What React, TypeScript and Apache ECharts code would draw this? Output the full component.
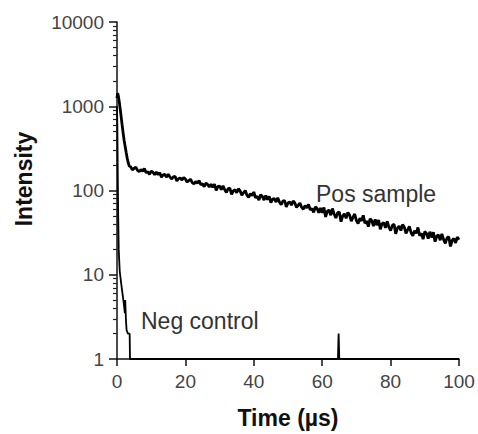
import React, { useEffect, useRef } from "react";
import * as echarts from "echarts";

// Pos sample: fast initial decay (time µs, intensity)
const posHeadTimes = [0, 0.15, 0.3, 0.5, 0.7, 0.9, 1.1, 1.3, 1.5, 1.8, 2.1, 2.4, 2.7, 3.0, 3.3, 3.6];
const posHeadValues = [1250, 1420, 1380, 1250, 1100, 950, 820, 700, 600, 480, 390, 330, 280, 240, 212, 195];

// Pos sample: slow noisy tail, one reading every 0.5 µs from 4 µs to 100 µs
const posTailStart = 4;
const posTailStep = 0.5;
const posTailValues = [
  191, 176, 183, 190, 173, 167, 177, 170, 182, 163, 167, 155, 170, 165, 154, 166,
  154, 163, 144, 153, 155, 144, 156, 144, 137, 145, 147, 130, 138, 141, 133, 143,
  137, 126, 131, 136, 124, 120, 128, 122, 131, 117, 120, 111, 122, 118, 110, 119,
  109, 119, 100, 111, 113, 102, 114, 102, 95, 105, 107, 90, 99, 102, 94, 105,
  99, 88, 94, 100, 88, 83, 92, 87, 96, 82, 85, 77, 89, 85, 77, 87,
  78, 85, 72, 79, 80, 73, 82, 73, 68, 75, 76, 64, 71, 73, 67, 75,
  71, 63, 67, 71, 63, 60, 66, 62, 68.5, 59, 61, 55, 64, 61, 54.5, 62,
  54.5, 63, 48.6, 56.7, 58.6, 50.9, 61.1, 52.3, 47.2, 54.3, 55.5, 42.7, 50, 52.8, 46.8, 54.9,
  51.2, 43.3, 48, 52.6, 44, 40.5, 47, 43.5, 50.8, 40.8, 43.5, 37.3, 46.2, 43.8, 37.8, 45.5,
  38.7, 44.6, 34.7, 40.4, 41.6, 36, 43, 36.9, 33.4, 38.6, 39.7, 30.6, 36, 37.8, 33.5, 39.3,
  36.8, 31, 34.2, 37.6, 31.5, 28.9, 33.4, 31, 36.4, 29.1, 31, 26.5, 32.6, 31, 26.9, 32.4,
  27.7, 31.9, 24.7, 28.8, 29.8, 25.7, 30.6, 26.1, 23.6, 27.4, 28.3, 21.7, 25.5, 26.9, 23.9, 28,
  26,
];

// Neg control
const negTimes = [0, 0.1, 0.2, 0.35, 0.5, 0.8, 1.2, 1.6, 2.0, 2.3, 2.4, 2.6, 2.8, 3.2, 3.7, 3.8, 64.6, 64.8, 65.0, 100];
const negValues = [1000, 600, 200, 50, 20, 11, 8, 6, 4.5, 3.5, 5, 3, 2.2, 2, 2, 1, 1, 2, 1, 1];

// Axis ticks
const xTicks = [0, 20, 40, 60, 80, 100];
const yMajorTicks = [1, 10, 100, 1000, 10000];
const yMinorTicks = [
  2, 3, 4, 5, 6, 7, 8, 9,
  20, 30, 40, 50, 60, 70, 80, 90,
  200, 300, 400, 500, 600, 700, 800, 900,
  2000, 3000, 4000, 5000, 6000, 7000, 8000, 9000,
];

const FONT = "'Liberation Sans', Arial, Helvetica, sans-serif";

export default function App() {
  const ref = useRef<HTMLDivElement>(null);

  useEffect(() => {
    if (!ref.current) return;
    const chart = echarts.init(ref.current, null, { renderer: "svg" });

    const posData: number[][] = [];
    posHeadTimes.forEach((t, i) => posData.push([t, posHeadValues[i]]));
    posTailValues.forEach((v, i) => posData.push([posTailStart + i * posTailStep, v]));
    const negData = negTimes.map((t, i) => [t, negValues[i]]);

    chart.setOption({
      animation: false,
      backgroundColor: "#ffffff",
      textStyle: { fontFamily: FONT },
      grid: { left: 117, right: 19, top: 22, bottom: 72, containLabel: false },
      xAxis: {
        type: "value",
        min: xTicks[0],
        max: xTicks[xTicks.length - 1],
        interval: 20,
        name: "Time (µs)",
        nameLocation: "middle",
        nameGap: 47,
        nameTextStyle: { fontSize: 23, fontWeight: "bold", color: "#111", fontFamily: FONT },
        axisLine: { show: true, lineStyle: { color: "#111", width: 1.5 } },
        axisTick: { show: true, length: 7, lineStyle: { color: "#111", width: 1.5 } },
        axisLabel: { fontSize: 19, color: "#444", margin: 13, fontFamily: FONT },
        splitLine: { show: false },
      },
      yAxis: [
        {
          type: "log",
          logBase: 10,
          min: yMajorTicks[0],
          max: yMajorTicks[yMajorTicks.length - 1],
          axisLine: { show: true, lineStyle: { color: "#111", width: 1.5 } },
          axisTick: { show: true, length: 8, lineStyle: { color: "#111", width: 1.5 } },
          axisLabel: {
            fontSize: 19,
            color: "#444",
            margin: 13,
            fontFamily: FONT,
            formatter: (v: number) => String(Math.round(v)),
          },
          splitLine: { show: false },
        },
        {
          type: "log",
          logBase: 10,
          min: yMajorTicks[0],
          max: yMajorTicks[yMajorTicks.length - 1],
          position: "left",
          axisLine: { show: false },
          axisLabel: { show: false },
          axisTick: {
            show: true,
            length: 4,
            customValues: yMinorTicks,
            lineStyle: { color: "#222", width: 1.2 },
          },
          splitLine: { show: false },
        },
      ],
      series: [
        {
          name: "Pos sample",
          type: "line",
          data: posData,
          showSymbol: false,
          symbol: "none",
          lineStyle: { color: "#000", width: 2.8 },
          z: 3,
        },
        {
          name: "Neg control",
          type: "line",
          data: negData,
          showSymbol: false,
          symbol: "none",
          lineStyle: { color: "#000", width: 1.8 },
          z: 3,
        },
      ],
      graphic: [
        {
          type: "text",
          x: 24,
          y: 179,
          rotation: Math.PI / 2,
          style: {
            text: "Intensity",
            fontSize: 23,
            fontWeight: "bold",
            fill: "#111",
            fontFamily: FONT,
            align: "center",
            verticalAlign: "middle",
          },
        },
        {
          type: "text",
          left: 316,
          top: 182,
          style: { text: "Pos sample", fontSize: 23, fill: "#333", fontFamily: FONT },
        },
        {
          type: "text",
          left: 141,
          top: 309,
          style: { text: "Neg control", fontSize: 23, fill: "#333", fontFamily: FONT },
        },
      ],
    });

    return () => chart.dispose();
  }, []);

  return <div ref={ref} style={{ width: 478, height: 434, position: "absolute", left: 0, top: 0 }} />;
}
